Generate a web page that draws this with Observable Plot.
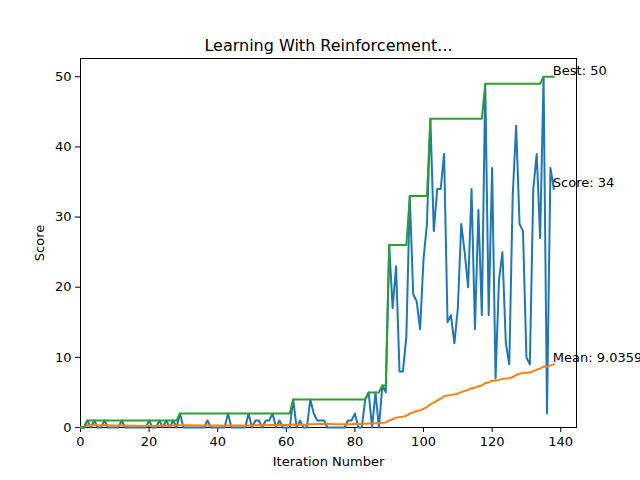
<!DOCTYPE html>
<html>
<head>
<meta charset="utf-8">
<script src="https://cdn.jsdelivr.net/npm/d3@7"></script>
<script src="https://cdn.jsdelivr.net/npm/@observablehq/plot@0.6"></script>
<style>
  body { margin: 0; background: #fff; }
</style>
</head>
<body>
<div id="chart"></div>
<script>
// score for each game
const scores = [
  0,0,1,0,1,0,0,1,0,0, 0,0,1,0,0,0,0,0,0,0,
  1,0,0,1,0,1,0,1,0,2, 0,0,0,0,0,0,0,1,0,0,
  0,0,0,2,0,0,0,0,0,2, 0,1,1,0,1,1,2,0,1,0,
  0,0,4,0,1,0,0,4,2,1, 1,1,0,0,0,0,0,0,1,1,
  2,0,0,4,5,0,5,0,6,5,
  26,17,23,8,8,13,33,19,18,14,
  24,29,44,28,34,34,39,15,16,12,
  17,29,25,20,34,14,31,16,49,16,
  37,7,21,25,12,9,33,43,29,28,
  10,9,34,39,27,50,2,37,34
];
const games = scores.map((d, i) => i);
// running best and running mean, as the training loop tracked them
const best = scores.map((_, i) => d3.max(scores.slice(0, i + 1)));
const means = scores.map((_, i) => d3.mean(scores.slice(0, i + 1)));

const rows = games.map(i => ({x: i, score: scores[i], best: best[i], mean: means[i]}));
const last = rows[rows.length - 1];
const labels = [
  {x: last.x, y: last.best, text: "Best: " + last.best},
  {x: last.x, y: last.score, text: "Score: " + last.score},
  {x: last.x, y: last.mean, text: "Mean: " + last.mean}
];

const chart = Plot.plot({
  width: 640,
  height: 480,
  marginLeft: 80,
  marginRight: 64,
  marginTop: 58,
  marginBottom: 53,
  style: {fontFamily: "DejaVu Sans", fontSize: "13px", color: "#000", overflow: "visible"},
  x: {domain: [0, 144.6], ticks: d3.range(0, 141, 20), tickSize: 5, tickPadding: 4,
      label: "Iteration Number", labelAnchor: "center", labelArrow: "none", labelOffset: 38},
  y: {domain: [0, 52.6], ticks: d3.range(0, 51, 10), tickSize: 5, tickPadding: 4,
      label: "Score", labelAnchor: "center", labelArrow: "none", labelOffset: 46},
  marks: [
    Plot.frame({stroke: "#000", strokeWidth: 1}),
    Plot.line(rows, {x: "x", y: "score", stroke: "#1f77b4", strokeWidth: 2}),
    Plot.line(rows, {x: "x", y: "mean", stroke: "#ff7f0e", strokeWidth: 2}),
    Plot.line(rows, {x: "x", y: "best", stroke: "#2ca02c", strokeWidth: 2}),
    Plot.text(labels, {x: "x", y: "y", text: "text", textAnchor: "start", lineAnchor: "bottom",
                       dy: -2, dx: -1, fontSize: 13, fill: "#000", clip: false}),
    Plot.text(["Learning With Reinforcement..."], {frameAnchor: "top", dy: -8, fontSize: 16,
                       lineAnchor: "bottom", fill: "#000"})
  ]
});
document.getElementById("chart").append(chart);
</script>
</body>
</html>
